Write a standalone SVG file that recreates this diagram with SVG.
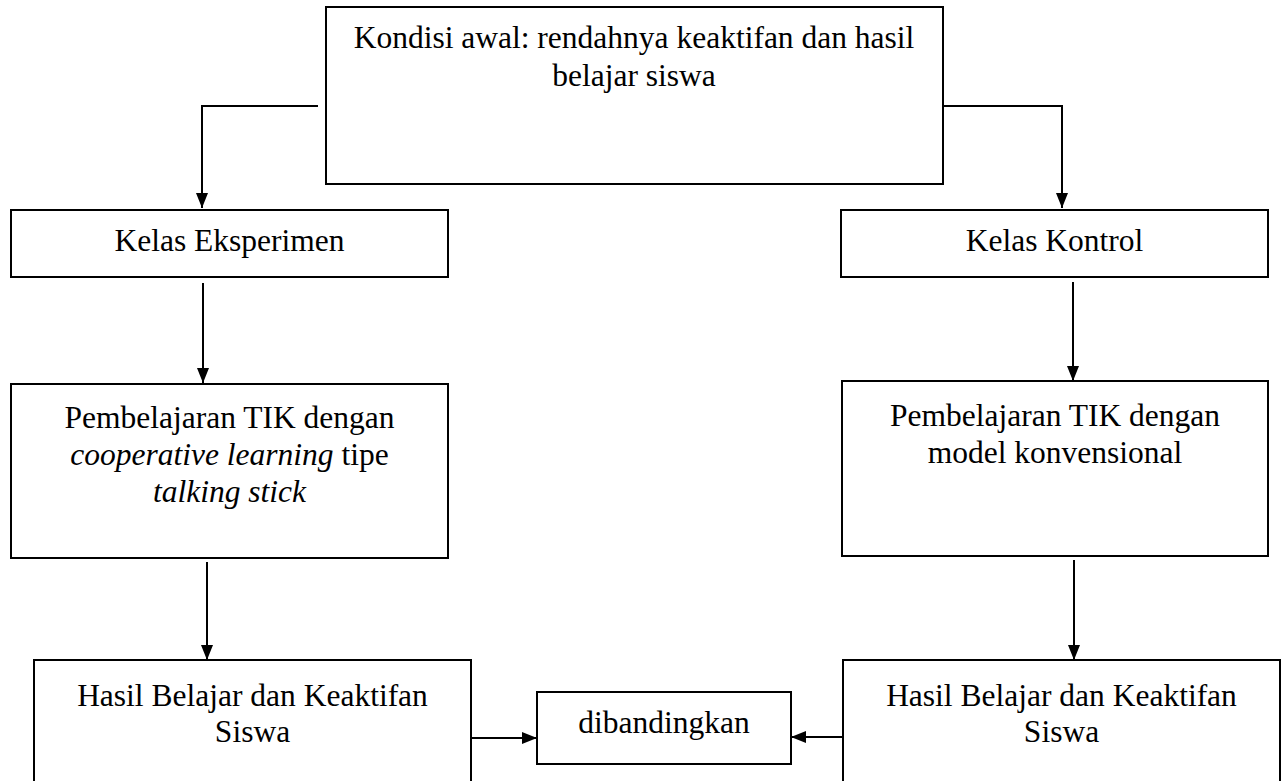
<svg xmlns="http://www.w3.org/2000/svg" width="1285" height="781" viewBox="0 0 1285 781">
  <defs>
    <style>
      .box { fill: #ffffff; stroke: #000000; stroke-width: 2; }
      .lbl { font-family: "Liberation Serif", "Times New Roman", serif; font-size: 31.5px; fill: #000000; text-anchor: middle; }
      .it { font-style: italic; }
      .conn { fill: none; stroke: #000000; stroke-width: 2; }
    </style>
    <marker id="arrow" viewBox="0 0 15 12" refX="15" refY="6" markerWidth="15" markerHeight="12" markerUnits="userSpaceOnUse" orient="auto">
      <path d="M0,0 L15,6 L0,12 Z" fill="#000000"/>
    </marker>
  </defs>
  <rect width="1285" height="781" fill="#ffffff"/>

  <g id="connectors">
    <path class="conn" d="M318,106 H202 V208" marker-end="url(#arrow)"/>
    <path class="conn" d="M943,106 H1062 V208" marker-end="url(#arrow)"/>
    <path class="conn" d="M203,283 V383" marker-end="url(#arrow)"/>
    <path class="conn" d="M1073,282 V381" marker-end="url(#arrow)"/>
    <path class="conn" d="M207,562 V660" marker-end="url(#arrow)"/>
    <path class="conn" d="M1074,560 V660" marker-end="url(#arrow)"/>
    <path class="conn" d="M471,738 H537" marker-end="url(#arrow)"/>
    <path class="conn" d="M843,737 H791" marker-end="url(#arrow)"/>
  </g>

  <g id="node-kondisi">
    <rect class="box" x="326" y="7" width="617" height="177"/>
    <text class="lbl" x="634" y="48">Kondisi awal: rendahnya keaktifan dan hasil</text>
    <text class="lbl" x="634" y="86">belajar siswa</text>
  </g>

  <g id="node-eksperimen">
    <rect class="box" x="11" y="210" width="437" height="67"/>
    <text class="lbl" x="229.5" y="251">Kelas Eksperimen</text>
  </g>

  <g id="node-kontrol">
    <rect class="box" x="841" y="210" width="427" height="67"/>
    <text class="lbl" x="1054.5" y="251">Kelas Kontrol</text>
  </g>

  <g id="node-pembelajaran-eksperimen">
    <rect class="box" x="11" y="384" width="437" height="174"/>
    <text class="lbl" x="229.5" y="428">Pembelajaran TIK dengan</text>
    <text class="lbl" x="229.5" y="465"><tspan class="it">cooperative learning</tspan> tipe</text>
    <text class="lbl it" x="229.5" y="502">talking stick</text>
  </g>

  <g id="node-pembelajaran-kontrol">
    <rect class="box" x="842" y="381" width="426" height="175"/>
    <text class="lbl" x="1055" y="426">Pembelajaran TIK dengan</text>
    <text class="lbl" x="1055" y="463">model konvensional</text>
  </g>

  <g id="node-hasil-eksperimen">
    <rect class="box" x="34" y="660" width="437" height="130"/>
    <text class="lbl" x="252.5" y="706">Hasil Belajar dan Keaktifan</text>
    <text class="lbl" x="252.5" y="742">Siswa</text>
  </g>

  <g id="node-dibandingkan">
    <rect class="box" x="537" y="692" width="254" height="72"/>
    <text class="lbl" x="664" y="733">dibandingkan</text>
  </g>

  <g id="node-hasil-kontrol">
    <rect class="box" x="843" y="660" width="437" height="130"/>
    <text class="lbl" x="1061.5" y="706">Hasil Belajar dan Keaktifan</text>
    <text class="lbl" x="1061.5" y="742">Siswa</text>
  </g>
</svg>
